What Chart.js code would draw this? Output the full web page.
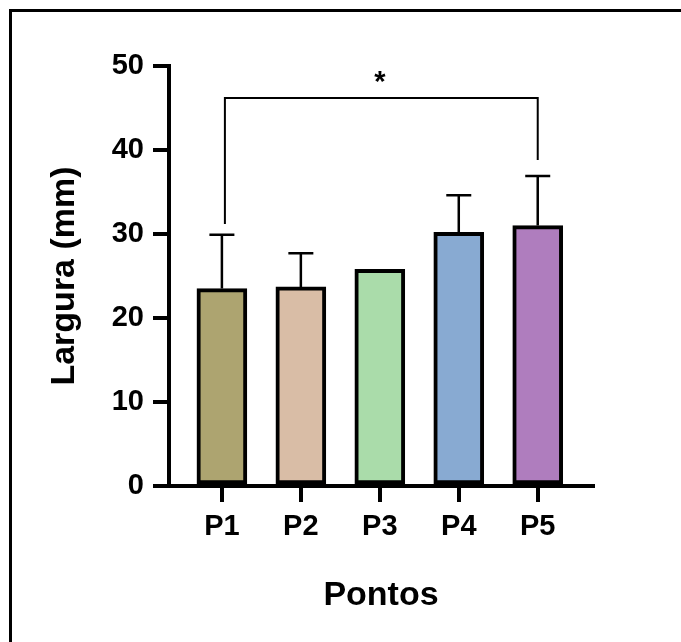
<!DOCTYPE html>
<html>
<head>
<meta charset="utf-8">
<script src="https://cdn.jsdelivr.net/npm/chart.js@4.4.0/dist/chart.umd.min.js"></script>
<style>
  html, body { margin: 0; padding: 0; background: #fff; overflow: hidden; }
  #frame { position: absolute; left: 9px; top: 9px; width: 700px; height: 700px; border-left: 3px solid #000; border-top: 3px solid #000; }
  #chart { position: absolute; left: 0; top: 0; }
</style>
</head>
<body>
<div id="frame"></div>
<canvas id="chart" width="681" height="642"></canvas>
<script>
// categories and values
const labels = ['P1', 'P2', 'P3', 'P4', 'P5'];
const means = [23.5, 23.7, 25.8, 30.2, 31.0];
const sds = [6.4, 4.0, 0, 4.4, 5.9];
const colors = ['#ADA470', '#D9BDA6', '#AADCAA', '#88AAD2', '#AF7DBE'];
const yTicks = [0, 10, 20, 30, 40, 50];

// significance bracket P1 vs P5
const bracketPair = [1, 5];
const bracketTop = 46.2;
const bracketLegEnds = [31.2, 38.8];
const bracketText = '*';

const family = "'Liberation Sans', Arial, sans-serif";

const extras = {
  id: 'extras',
  afterDatasetsDraw(chart) {
    const { ctx, scales: { x, y } } = chart;
    ctx.save();
    ctx.strokeStyle = '#000';
    ctx.lineWidth = 2.5;
    means.forEach(function (m, i) {
      if (!sds[i]) return;
      const px = x.getPixelForValue(i + 1);
      const top = y.getPixelForValue(m + sds[i]);
      ctx.beginPath();
      ctx.moveTo(px, y.getPixelForValue(m));
      ctx.lineTo(px, top);
      ctx.moveTo(px - 12.5, top);
      ctx.lineTo(px + 12.5, top);
      ctx.stroke();
    });

    // bracket
    const x1 = x.getPixelForValue(bracketPair[0]);
    const x2 = x.getPixelForValue(bracketPair[1]);
    const yt = y.getPixelForValue(bracketTop);
    ctx.lineWidth = 2;
    ctx.beginPath();
    ctx.moveTo(x1 + 3, y.getPixelForValue(bracketLegEnds[0]));
    ctx.lineTo(x1 + 3, yt);
    ctx.lineTo(x2, yt);
    ctx.lineTo(x2, y.getPixelForValue(bracketLegEnds[1]));
    ctx.stroke();

    ctx.fillStyle = '#000';
    ctx.font = 'bold 29px ' + family;
    ctx.textAlign = 'center';
    ctx.textBaseline = 'alphabetic';
    ctx.fillText(bracketText, (x1 + x2) / 2, yt - 7);
    ctx.restore();
  }
};

const data = {
  datasets: [{
    data: means.map(function (m, i) { return { x: i + 1, y: m }; }),
    backgroundColor: colors,
    borderColor: '#000',
    borderWidth: 4,
    borderSkipped: false,
    barThickness: 50
  }]
};

const config = {
  type: 'bar',
  data: data,
  options: {
    responsive: false,
    animation: false,
    layout: { padding: { top: 66, right: 88, left: 0, bottom: 0 } },
    plugins: {
      legend: { display: false },
      tooltip: { enabled: false }
    },
    scales: {
      x: {
        type: 'linear',
        offset: false,
        min: 0.33,
        max: 5.7,
        afterBuildTicks: function (s) { s.ticks = labels.map(function (l, i) { return { value: i + 1 }; }); },
        afterFit: function (s) { s.height = 156; },
        grid: { offset: false, drawOnChartArea: false, color: '#000', lineWidth: 4, tickLength: 16 },
        border: { color: '#000', width: 4 },
        ticks: {
          color: '#000',
          padding: 8,
          maxRotation: 0,
          font: { family: family, size: 29, weight: 'bold' },
          callback: function (v) { return labels[Math.round(v) - 1]; }
        },
        title: {
          display: true,
          text: 'Pontos',
          color: '#000',
          font: { family: family, size: 34, weight: 'bold' },
          padding: { top: 0, bottom: 26 }
        }
      },
      y: {
        min: 0,
        max: 50,
        afterBuildTicks: function (s) { s.ticks = yTicks.map(function (v) { return { value: v }; }); },
        afterFit: function (s) { s.width = 169; },
        grid: { drawOnChartArea: false, color: '#000', lineWidth: 4, tickLength: 16 },
        border: { color: '#000', width: 4 },
        ticks: {
          color: '#000',
          padding: 9,
          font: { family: family, size: 29, weight: 'bold' }
        },
        title: {
          display: true,
          text: 'Largura (mm)',
          color: '#000',
          font: { family: family, size: 34, weight: 'bold' },
          padding: { top: 44, bottom: 0 }
        }
      }
    }
  },
  plugins: [extras]
};

new Chart(document.getElementById('chart'), config);
</script>
</body>
</html>
